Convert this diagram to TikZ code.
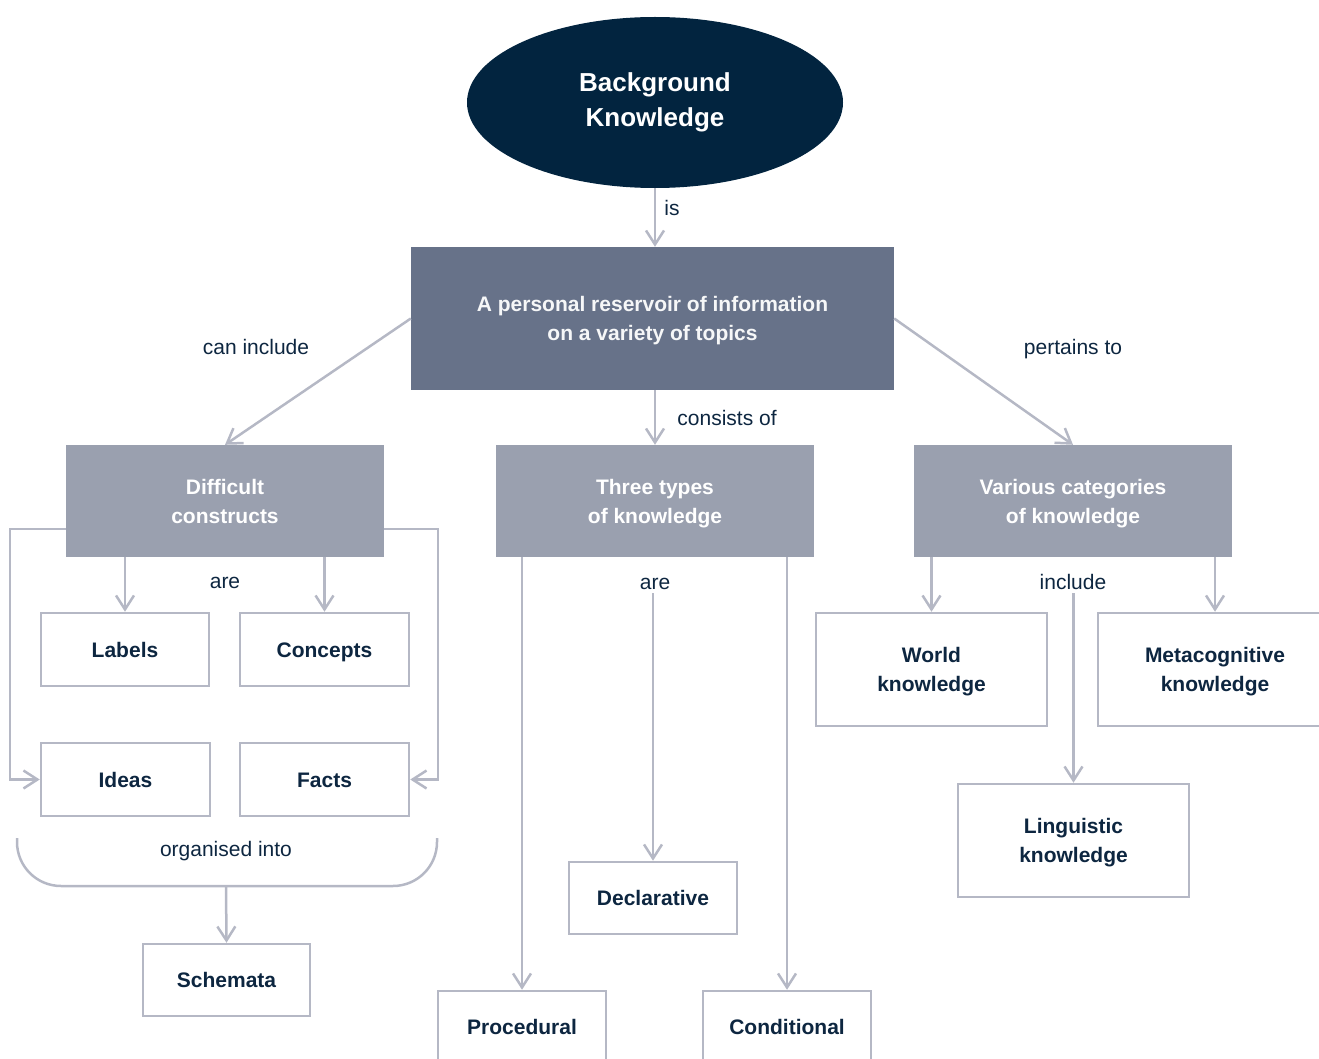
\documentclass[tikz,border=0pt]{standalone}
\usepackage{fontspec}
\setmainfont{Liberation Sans}
\usetikzlibrary{shapes.geometric,arrows.meta}
\definecolor{navy}{HTML}{02243F}
\definecolor{slate}{HTML}{677289}
\definecolor{catgray}{HTML}{9AA0AF}
\definecolor{linegray}{HTML}{B5B8C5}
\definecolor{ink}{HTML}{0D2640}
\newcommand{\txt}{\fontsize{21}{29}\selectfont}

\begin{document}
\begin{tikzpicture}[x=1pt,y=-1pt,
  conn/.style={draw=linegray,line width=2.5pt,-{Straight Barb[length=14pt,width=18pt]}},
  line/.style={draw=linegray,line width=2.5pt},
  leaf/.style={line,fill=white,text=ink,font=\txt\bfseries,align=center,inner sep=0pt,text depth=0pt},
  oneline/.style={text height=15pt,text depth=0pt},
  cat/.style={fill=catgray,text=white,font=\txt\bfseries,align=center,inner sep=0pt,text depth=0pt,
    minimum width=318pt,minimum height=112pt},
  lbl/.style={text=ink,font=\txt}]
\path[use as bounding box,clip] (0,0) rectangle (1319,1059);
% top
\node[ellipse,fill=navy,text=white,font=\fontsize{26}{35}\selectfont\bfseries,align=center,
  minimum width=376pt,minimum height=171pt] (bk) at (655,102.5) {Background\\Knowledge};
\node[fill=slate,text=white!94!slate,font=\txt\bfseries,align=center,text depth=0pt,
  minimum width=483pt,minimum height=143pt] (res) at (652.5,318.5)
  {A personal reservoir of information\\on a variety of topics};
\draw[conn] (bk) -- (res.north -| bk);
\node[lbl] (is) at (672,208) {is};
% second level
\node[cat] (diff) at (225,501) {Difficult\\constructs};
\node[cat] (three) at (655,501) {Three types\\of knowledge};
\node[cat] (var) at (1073,501) {Various categories\\of knowledge};
\draw[conn] (res.west) -- (diff.north);
\draw[conn] (res.south -| three) -- (three.north);
\draw[conn] (res.east) -- (var.north);
\node[lbl] (caninc) at (256,347) {can include};
\node[lbl] (consists) at (727,418) {consists of};
\node[lbl] (pertains) at (1073,349) {pertains to};
% difficult constructs
\node[leaf,oneline,minimum width=168pt,minimum height=73pt] (labels) at (125,649.5) {Labels};
\node[leaf,oneline,minimum width=169pt,minimum height=73pt] (concepts) at (324.5,649.5) {Concepts};
\node[leaf,oneline,minimum width=169pt,minimum height=73pt] (ideas) at (125.5,779.5) {Ideas};
\node[leaf,oneline,minimum width=169pt,minimum height=73pt] (facts) at (324.5,779.5) {Facts};
\node[lbl] (are1) at (225,583) {are};
\draw[conn] (diff.south -| labels.north) -- (labels.north);
\draw[conn] (diff.south -| concepts.north) -- (concepts.north);
\draw[conn] ([yshift=-28pt]diff.west) -- ++(-56pt,0) |- (ideas.west);
\draw[conn] ([yshift=-28pt]diff.east) -- ++(54pt,0) |- (facts.east);
% bracket
\draw[line,rounded corners=44pt] (17,838) -- (17,886) -- (437,886) -- (437,838);
\coordinate (brk) at (226,886);
\node[lbl] (organised) at (226,851) {organised into};
\node[leaf,oneline,minimum width=167pt,minimum height=72pt] (schem) at (226.5,980) {Schemata};
\draw[conn] (brk) -- (schem.north);
% three types
\node[lbl] (are2) at (655,584) {are};
\node[leaf,oneline,minimum width=168pt,minimum height=72pt] (decl) at (653,898) {Declarative};
\node[leaf,oneline,text depth=6pt,minimum width=168pt,minimum height=78pt] (proc) at (522,1030) {Procedural};
\node[leaf,oneline,text depth=6pt,minimum width=168pt,minimum height=78pt] (cond) at (787,1030) {Conditional};
\draw[conn] (are2.south -| decl.north) -- (decl.north);
\draw[conn] (three.south -| proc.north) -- (proc.north);
\draw[conn] (three.south -| cond.north) -- (cond.north);
% various categories
\node[lbl] (incl) at (1073,582) {include};
\node[leaf,minimum width=231pt,minimum height=113pt] (world) at (931.5,669.5) {World\\knowledge};
\node[leaf,minimum width=234pt,minimum height=113pt] (meta) at (1215,669.5) {Metacognitive\\knowledge};
\node[leaf,minimum width=231pt,minimum height=113pt] (ling) at (1073.5,840.5) {Linguistic\\knowledge};
\draw[conn] (var.south -| world.north) -- (world.north);
\draw[conn] (var.south -| meta.north) -- (meta.north);
\draw[conn] (incl.south -| ling.north) -- (ling.north);
\end{tikzpicture}
\end{document}
